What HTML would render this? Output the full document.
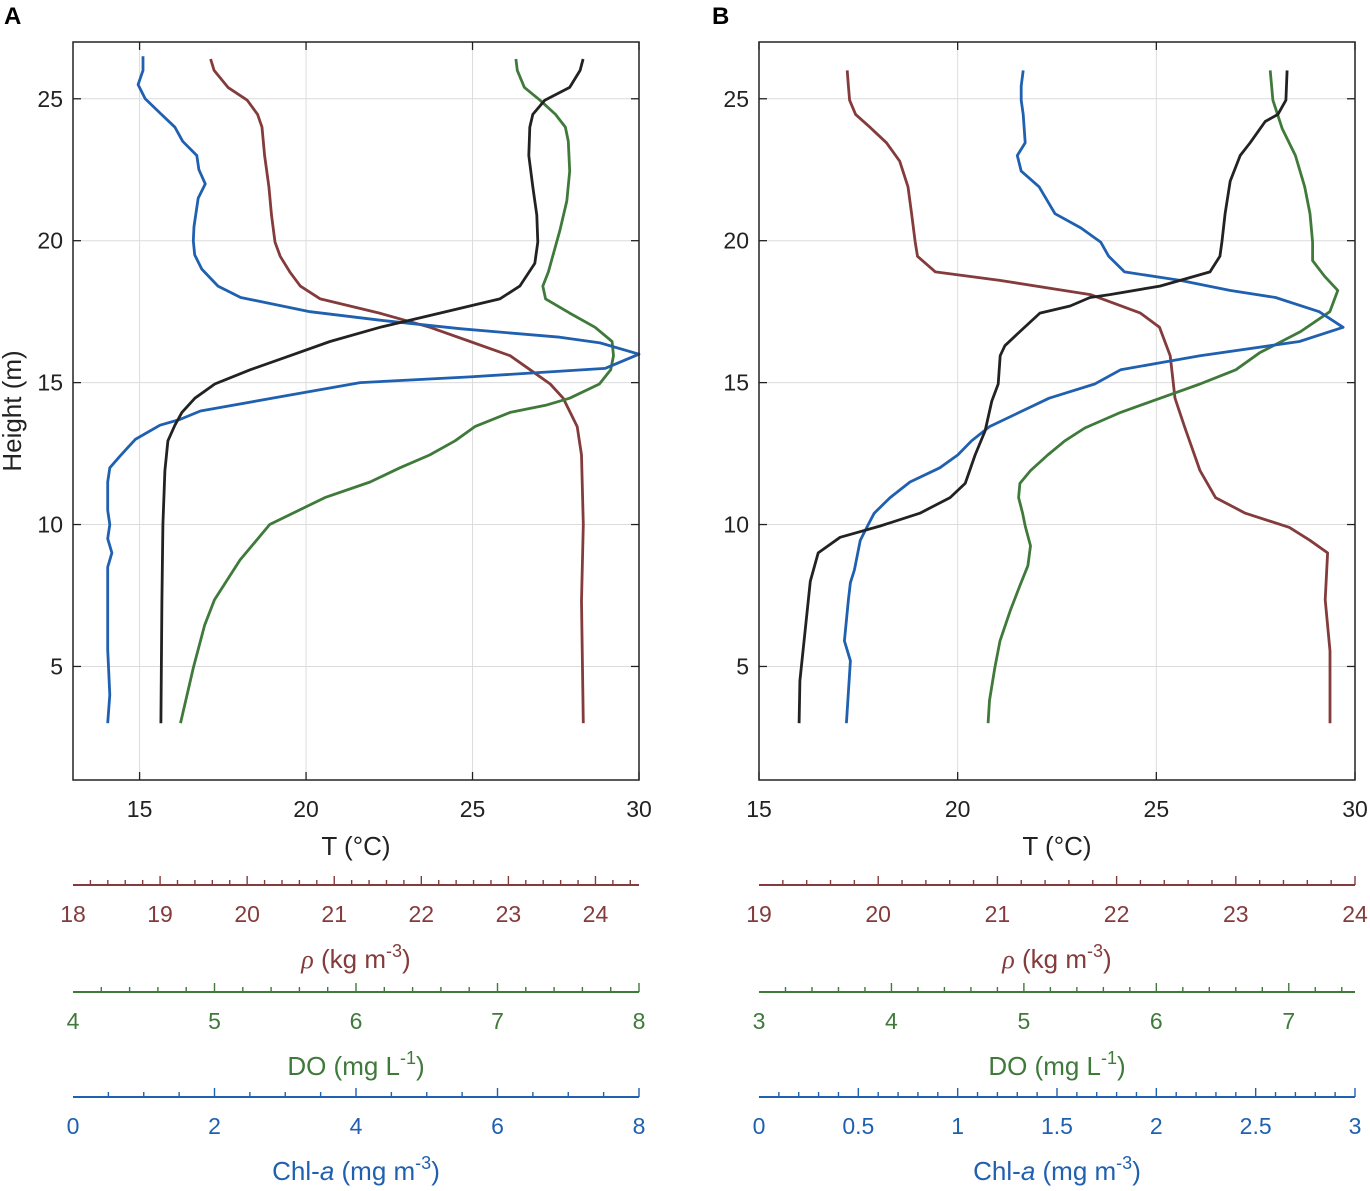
<!DOCTYPE html>
<html><head><meta charset="utf-8"><style>
body{margin:0;background:#fff}
svg text{font-family:"Liberation Sans",sans-serif}
</style></head><body>
<svg id="chart" width="1370" height="1186" viewBox="0 0 1370 1186" xmlns="http://www.w3.org/2000/svg"></svg>
<script>
// ---------- data ----------
// Panel A
const aChlH=[26.5,26,25.5,25,24.5,24,23.5,23,22.5,22,21.5,21,20.5,20,19.5,19,18.4,18,17.5,17.2,16.9,16.6,16.4,16,15.5,15.2,15,14.5,14,13.7,13.5,13,12.4,12,11.5,10.5,10,9.5,9,8.5,7.3,5.6,4,3];
const aChlV=[0.99,0.99,0.92,1.02,1.23,1.44,1.55,1.75,1.78,1.87,1.77,1.74,1.71,1.70,1.72,1.82,2.05,2.37,3.35,4.34,5.47,6.88,7.45,8.0,7.52,5.61,4.06,2.93,1.80,1.51,1.23,0.88,0.66,0.52,0.49,0.49,0.52,0.49,0.55,0.49,0.49,0.49,0.52,0.49];
const aTH=[26.4,26,25.4,24.95,24.45,24,23,21.9,20.9,19.95,19.2,18.4,17.95,17.45,16.95,16.45,15.95,15.45,14.95,14.45,13.95,13.5,12.95,11.9,10,7.3,3];
const aTV=[28.32,28.23,27.92,27.17,26.81,26.72,26.69,26.81,26.93,26.96,26.87,26.42,25.82,24.02,22.22,20.72,19.52,18.32,17.26,16.66,16.27,16.06,15.85,15.76,15.70,15.67,15.64];
const aRhoH=[26.4,26,25.4,24.95,24.45,24,23,21.9,20.9,19.95,19.45,18.9,18.4,17.95,17.45,16.95,16.45,15.95,15.45,14.95,14.45,13.95,13.45,12.45,10,7.3,3];
const aRhoV=[19.58,19.62,19.78,20.00,20.12,20.17,20.20,20.25,20.28,20.32,20.38,20.49,20.61,20.84,21.52,22.10,22.56,23.02,23.25,23.48,23.63,23.71,23.79,23.84,23.86,23.84,23.86];
const aDoH=[26.4,26,25.4,24.95,24.45,24,23.5,22.45,21.4,20.35,19.45,18.9,18.4,17.95,17.45,16.95,16.45,15.95,15.45,14.95,14.45,14.2,13.95,13.45,12.95,12.45,12,11.5,10.95,10,8.75,7.35,6.45,4.95,3];
const aDoV=[7.13,7.14,7.19,7.30,7.41,7.48,7.50,7.51,7.49,7.44,7.39,7.36,7.32,7.34,7.51,7.69,7.81,7.82,7.80,7.72,7.51,7.34,7.09,6.84,6.70,6.52,6.31,6.10,5.78,5.39,5.18,5.00,4.93,4.85,4.76];
// Panel B
const bRhoH=[26,25.45,24.95,24.45,24,23.45,22.8,21.9,20.95,19.95,19.45,18.9,18.6,18.1,17.45,16.95,15.95,14.45,13.45,11.9,10.95,10.4,9.9,9.45,9,7.35,5.55,3];
const bRhoV=[19.74,19.75,19.76,19.81,19.93,20.07,20.18,20.25,20.28,20.31,20.33,20.48,21.02,21.78,22.20,22.36,22.45,22.49,22.57,22.70,22.83,23.08,23.45,23.62,23.77,23.75,23.79,23.79];
const bChlH=[26,25.45,24.95,24.45,23.45,23,22.45,21.9,20.95,20.45,19.95,19.45,18.9,18.6,18.25,18,17.5,16.95,16.45,15.95,15.7,15.45,14.95,14.45,13.95,13.45,12.95,12.45,12,11.5,10.95,10.4,10,9.45,8.4,7.95,7.35,5.9,5.2,3];
const bChlV=[1.33,1.32,1.32,1.33,1.34,1.30,1.32,1.41,1.49,1.62,1.72,1.76,1.84,2.12,2.37,2.60,2.82,2.94,2.72,2.22,2.02,1.82,1.69,1.46,1.31,1.16,1.07,1.00,0.91,0.76,0.66,0.58,0.55,0.51,0.48,0.46,0.45,0.43,0.46,0.44];
const bTH=[26,24.95,24.45,24.2,23.45,23,22.1,20.95,19.95,19.45,18.9,18.6,18.4,18.1,18,17.7,17.45,16.8,16.3,15.95,14.95,14.35,13.3,12.45,11.45,10.95,10.4,9.95,9.55,9,8,6.25,4.5,3];
const bTV=[28.29,28.26,28.06,27.74,27.36,27.11,26.86,26.73,26.65,26.60,26.35,25.60,25.09,23.83,23.33,22.83,22.07,21.57,21.19,21.07,21.02,20.86,20.69,20.44,20.19,19.81,19.05,18.05,17.04,16.49,16.29,16.16,16.03,16.01];
const bDoH=[26,24.95,23.95,23,21.9,20.95,19.95,19.3,18.75,18.25,17.5,16.8,16.05,15.45,14.95,14.45,13.95,13.4,12.95,12.45,11.9,11.45,10.95,10.4,9.95,9.25,8.55,7.85,7,5.9,4.95,3.8,3];
const bDoV=[6.86,6.88,6.95,7.05,7.12,7.16,7.18,7.18,7.27,7.37,7.31,7.09,6.78,6.60,6.33,6.03,5.73,5.46,5.31,5.18,5.05,4.97,4.96,4.99,5.01,5.05,5.03,4.97,4.90,4.82,4.78,4.74,4.73];
// ticks
const tTicksA=[15,20,25,30], tTicksB=[15,20,25,30], hTicks=[5,10,15,20,25];

// ---------- drawing ----------
const svg=document.getElementById('chart');
const NS='http://www.w3.org/2000/svg';
function el(tag,attrs,parent){const e=document.createElementNS(NS,tag);for(const k in attrs)e.setAttribute(k,attrs[k]);(parent||svg).appendChild(e);return e;}
const C={rho:'#843b3b',do:'#3f7a3a',chl:'#1f60b0',t:'#222'};
const yTop=42,yBot=780,hMin=1,hMax=27;
const yS=h=>yBot-(h-hMin)/(hMax-hMin)*(yBot-yTop);

function scale(x0,x1,v0,v1){return v=>x0+(v-v0)/(v1-v0)*(x1-x0);}

function panel(id,x0,x1,tMin,tMax,tTicks,series,axes){
  const g=el('g',{});
  
  
  const xT=scale(x0,x1,tMin,tMax);
  tTicks.forEach(t=>{const l=el('line',{x1:xT(t),x2:xT(t),y1:yTop,y2:yBot,stroke:'#dcdcdc','stroke-width':1},g);});
  hTicks.forEach(h=>{const l=el('line',{x1:x0,x2:x1,y1:yS(h),y2:yS(h),stroke:'#dcdcdc','stroke-width':1},g);});
  series.forEach(s=>{
    const sc=scale(x0,x1,s.min,s.max);
    const d=s.v.map((v,i)=>(i?'L':'M')+sc(v).toFixed(1)+' '+yS(s.h[i]).toFixed(1)).join('');
    const p=el('path',{d:d,fill:'none',stroke:s.c,'stroke-width':2.8,'stroke-linejoin':'round'},g);
    
    
  });
  const b=el('rect',{x:x0,y:yTop,width:x1-x0,height:yBot-yTop,fill:'none',stroke:'#222','stroke-width':1.5},g);
  
  tTicks.forEach(t=>{
    el('line',{x1:xT(t),x2:xT(t),y1:yBot,y2:yBot-8,stroke:'#222','stroke-width':1.3},g);
    el('line',{x1:xT(t),x2:xT(t),y1:yTop,y2:yTop+8,stroke:'#222','stroke-width':1.3},g);
    const tx=el('text',{x:xT(t),y:817,'text-anchor':'middle','font-size':23,fill:'#222'},g);
    tx.textContent=t;
    
  });
  hTicks.forEach(h=>{
    el('line',{x1:x0,x2:x0+8,y1:yS(h),y2:yS(h),stroke:'#222','stroke-width':1.3},g);
    el('line',{x1:x1,x2:x1-8,y1:yS(h),y2:yS(h),stroke:'#222','stroke-width':1.3},g);
    const tx=el('text',{x:x0-10,y:yS(h)+8,'text-anchor':'end','font-size':23,fill:'#222'},g);
    tx.textContent=h;
    
  });
  const xt=el('text',{x:(x0+x1)/2,y:855,'text-anchor':'middle','font-size':26,fill:'#222'},g);
  xt.textContent='T (°C)';
  
  axes.forEach(a=>{
    const ag=el('g',{},g);
    
    
    const sc=scale(x0,x1,a.min,a.max);
    el('line',{x1:x0,x2:x1,y1:a.y,y2:a.y,stroke:a.c,'stroke-width':2},ag);
    const n=Math.floor((a.max-a.min)/a.minor+1e-6);
    for(let i=1;i<=n;i++){
      const v=a.min+i*a.minor;
      const isMaj=Math.abs(v/a.major-Math.round(v/a.major))<1e-6;
      el('line',{x1:sc(v),x2:sc(v),y1:a.y,y2:a.y-(isMaj?9:5),stroke:a.c,'stroke-width':1.4},ag);
    }
    a.labels.forEach(v=>{
      const tx=el('text',{x:sc(v),y:a.y+37,'text-anchor':'middle','font-size':23,fill:a.c},ag);
      tx.textContent=v;
      
    });
    const tt=el('text',{x:(x0+x1)/2,y:a.y+83,'text-anchor':'middle','font-size':26,fill:a.c},ag);
    tt.innerHTML=a.title;
    
  });
}
const rhoT='<tspan font-family="Liberation Serif" font-style="italic">ρ</tspan> (kg m<tspan dy="-11" font-size="18">-3</tspan><tspan dy="11">)</tspan>';
const doT='DO (mg L<tspan dy="-11" font-size="18">-1</tspan><tspan dy="11">)</tspan>';
const chlT='Chl-<tspan font-style="italic">a</tspan> (mg m<tspan dy="-11" font-size="18">-3</tspan><tspan dy="11">)</tspan>';

panel('a',73,639,13,30,tTicksA,[
  {name:'rho-line-a',c:C.rho,h:aRhoH,v:aRhoV,min:18,max:24.5},
  {name:'do-line-a',c:C.do,h:aDoH,v:aDoV,min:4,max:8},
  {name:'chl-line-a',c:C.chl,h:aChlH,v:aChlV,min:0,max:8},
  {name:'temperature-line-a',c:C.t,h:aTH,v:aTV,min:13,max:30}
],[
  {name:'rho-axis-a',c:C.rho,y:885,min:18,max:24.5,major:1,minor:0.2,labels:[18,19,20,21,22,23,24],title:rhoT},
  {name:'do-axis-a',c:C.do,y:992,min:4,max:8,major:1,minor:0.2,labels:[4,5,6,7,8],title:doT},
  {name:'chl-axis-a',c:C.chl,y:1097,min:0,max:8,major:2,minor:0.5,labels:[0,2,4,6,8],title:chlT}
]);
panel('b',759,1355,15,30,tTicksB,[
  {name:'rho-line-b',c:C.rho,h:bRhoH,v:bRhoV,min:19,max:24},
  {name:'do-line-b',c:C.do,h:bDoH,v:bDoV,min:3,max:7.5},
  {name:'chl-line-b',c:C.chl,h:bChlH,v:bChlV,min:0,max:3},
  {name:'temperature-line-b',c:C.t,h:bTH,v:bTV,min:15,max:30}
],[
  {name:'rho-axis-b',c:C.rho,y:885,min:19,max:24,major:1,minor:0.2,labels:[19,20,21,22,23,24],title:rhoT},
  {name:'do-axis-b',c:C.do,y:992,min:3,max:7.5,major:1,minor:0.2,labels:[3,4,5,6,7],title:doT},
  {name:'chl-axis-b',c:C.chl,y:1097,min:0,max:3,major:0.5,minor:0.1,labels:[0,0.5,1,1.5,2,2.5,3],title:chlT}
]);
const yt=el('text',{x:0,y:0,'text-anchor':'middle','font-size':26,fill:'#222',transform:'translate(21,411) rotate(-90)'});
yt.textContent='Height (m)';


const la=el('text',{x:4,y:24,'font-size':24,'font-weight':'bold',fill:'#000'});
la.textContent='A';


const lb=el('text',{x:712,y:24,'font-size':24,'font-weight':'bold',fill:'#000'});
lb.textContent='B';


</script>
</body></html>
